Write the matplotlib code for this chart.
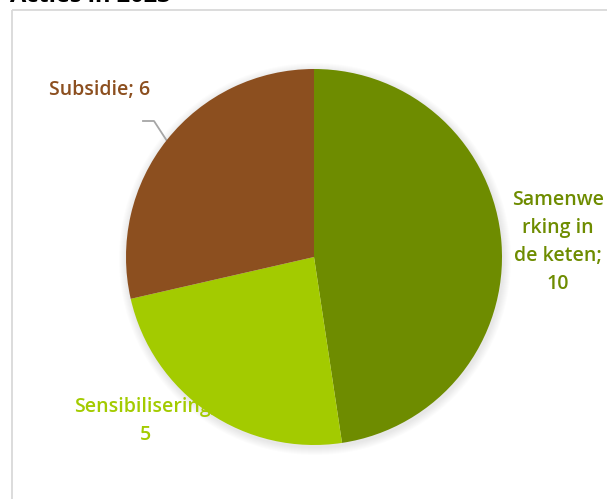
import matplotlib
matplotlib.use('Agg')
from matplotlib import pyplot as plt
from matplotlib.patches import Rectangle, Circle

# data
categories = ['Samenwerking in de keten', 'Sensibilisering', 'Subsidie']
values = [10, 5, 6]
colors = ['#6E8C00', '#A3CB00', '#8C4F1F']
title = 'Acties in 2023'

plt.rcParams['font.family'] = ['Open Sans', 'DejaVu Sans']

W, H = 607, 499
fig = plt.figure(figsize=(W / 100, H / 100), dpi=100)
ax = fig.add_axes([0, 0, 1, 1])

# chart frame
ax.add_patch(Rectangle((11.5, 9.5), 700, 600, fill=False, ec='#D9D9D9', lw=1.3, zorder=0))

# title, mostly cut off above the picture
fig.text(10 / W, 1 - 2 / H, title, fontsize=17, fontweight='bold', color='black',
         ha='left', va='baseline')

cx, cy, r = 314, 257, 188

# soft shadow behind the pie
for i in range(8):
    ax.add_patch(Circle((cx + 1, cy + 2), r + 8 - i, color='black', alpha=0.012, lw=0, zorder=1))

# y axis is inverted, so counterclock=True draws clockwise on screen; start at top
wedges, _ = ax.pie(values, colors=colors, startangle=-90, counterclock=True,
                   center=(cx, cy), radius=r, frame=True,
                   wedgeprops=dict(linewidth=0, zorder=3))
ax.set_xlim(0, W)
ax.set_ylim(H, 0)
ax.set_aspect('equal')
ax.axis('off')

# labels
fs = 14
ax.text(558, 242, 'Samenwe\nrking in\nde keten;\n' + str(values[0]), color=colors[0],
        fontsize=fs, fontweight='semibold', ha='center', va='center',
        multialignment='center', linespacing=1.55, zorder=2)
ax.text(145, 421, categories[1] + ';\n' + str(values[1]), color=colors[1],
        fontsize=fs, fontweight='semibold', ha='center', va='center',
        multialignment='center', linespacing=1.5, zorder=2)
ax.text(100, 90, categories[2] + '; ' + str(values[2]), color=colors[2],
        fontsize=fs, fontweight='semibold', ha='center', va='center', zorder=2)

# leader line for Subsidie
ax.plot([143, 154, 167], [121, 121, 141], color='#A6A6A6', lw=1.3, zorder=2)

fig.savefig('out.png', dpi=100)
